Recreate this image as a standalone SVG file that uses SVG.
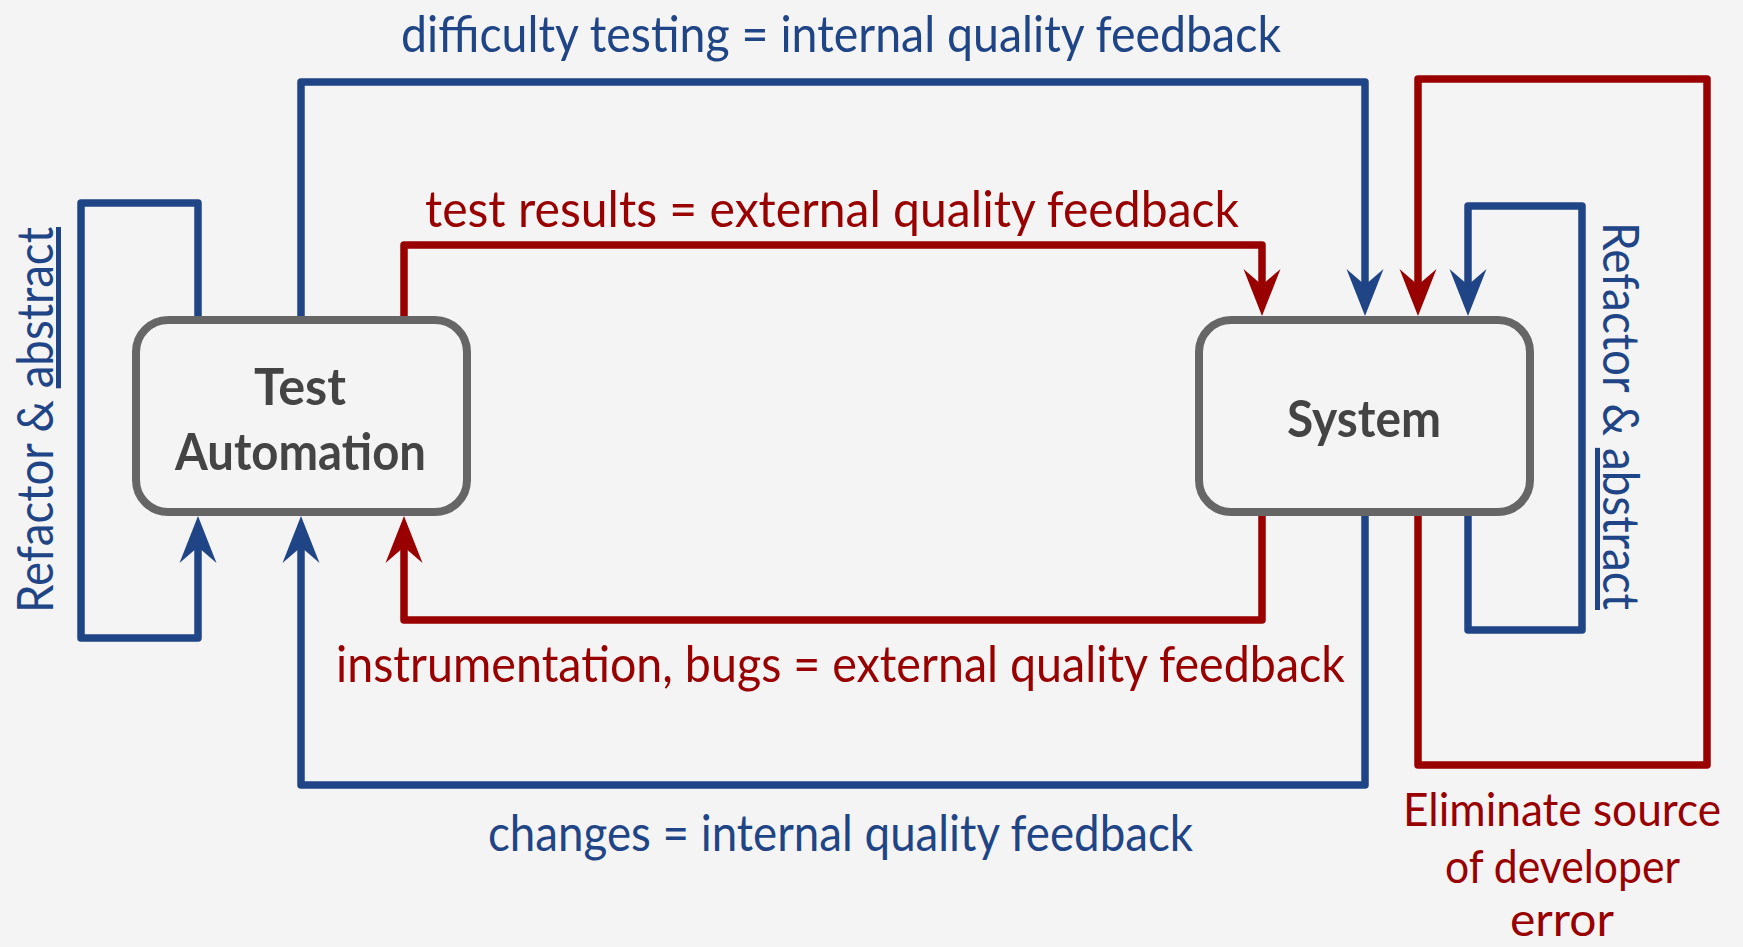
<svg xmlns="http://www.w3.org/2000/svg" width="1743" height="947" viewBox="0 0 1743 947">
<style>
.bg{fill:#f4f4f4}
.node rect{fill:#f4f4f4;stroke:#666666;stroke-width:8}
.ntxt{font-family:Lato,"Liberation Sans",sans-serif;font-weight:bold;font-size:52px;fill:#444444}
.conn path{fill:none;stroke-width:7.5;stroke-linejoin:round}
.blue{stroke:#1f4586}
.red{stroke:#990000}
.lbl{font-family:Lato,"Liberation Sans",sans-serif;font-size:50px}
.lsm{font-size:46px}
.lb{fill:#1f4586}
.lr{fill:#990000}
.ul{text-decoration:underline}
</style>
<defs>
<marker id="ab" markerUnits="userSpaceOnUse" viewBox="-20 -22 55 44" markerWidth="55" markerHeight="44" refX="0" refY="0" orient="auto" overflow="visible">
<path d="M0,0 L-16,-18.5 L31,0 L-16,18.5 Z" fill="#1f4586"/>
</marker>
<marker id="ar" markerUnits="userSpaceOnUse" viewBox="-20 -22 55 44" markerWidth="55" markerHeight="44" refX="0" refY="0" orient="auto" overflow="visible">
<path d="M0,0 L-16,-18.5 L31,0 L-16,18.5 Z" fill="#990000"/>
</marker>
</defs>
<rect class="bg" x="0" y="0" width="1743" height="947"/>
<g id="connectors" class="conn">
<path class="blue" d="M198,320 V203 H81 V638 H198 V547" marker-end="url(#ab)"/>
<path class="blue" d="M301,320 V82 H1365 V285" marker-end="url(#ab)"/>
<path class="blue" d="M1365,512 V785 H301 V547" marker-end="url(#ab)"/>
<path class="blue" d="M1468,512 V630 H1582 V206 H1468 V285" marker-end="url(#ab)"/>
<path class="red" d="M404,320 V245 H1262 V285" marker-end="url(#ar)"/>
<path class="red" d="M1262,512 V620 H404 V547" marker-end="url(#ar)"/>
<path class="red" d="M1418,512 V765 H1707 V79 H1418 V285" marker-end="url(#ar)"/>
</g>
<g id="node-test-automation" class="node">
<rect x="136" y="320" width="331" height="192" rx="32" ry="32"/>
<text class="ntxt" x="254" y="405" textLength="92" lengthAdjust="spacingAndGlyphs">Test</text>
<text class="ntxt" x="175" y="470" textLength="251" lengthAdjust="spacingAndGlyphs">Automation</text>
</g>
<g id="node-system" class="node">
<rect x="1199" y="320" width="331" height="192" rx="32" ry="32"/>
<text class="ntxt" x="1287" y="437" textLength="154" lengthAdjust="spacingAndGlyphs">System</text>
</g>
<g id="labels">
<text class="lbl lb" x="401" y="52" textLength="880" lengthAdjust="spacingAndGlyphs">difficulty testing = internal quality feedback</text>
<text class="lbl lr" x="425" y="227" textLength="814" lengthAdjust="spacingAndGlyphs">test results = external quality feedback</text>
<text class="lbl lr" x="336" y="682" textLength="1009" lengthAdjust="spacingAndGlyphs">instrumentation, bugs = external quality feedback</text>
<text class="lbl lb" x="488" y="851" textLength="705" lengthAdjust="spacingAndGlyphs">changes = internal quality feedback</text>
<text class="lbl lsm lr" x="1403" y="826" textLength="318" lengthAdjust="spacingAndGlyphs">Eliminate source</text>
<text class="lbl lsm lr" x="1445" y="883" textLength="235" lengthAdjust="spacingAndGlyphs">of developer</text>
<text class="lbl lsm lr" x="1510" y="936" textLength="104" lengthAdjust="spacingAndGlyphs">error</text>
<text class="lbl lb" transform="translate(53,613) rotate(-90)" x="0" y="0" textLength="386" lengthAdjust="spacingAndGlyphs">Refactor &amp; <tspan class="ul">abstract</tspan></text>
<text class="lbl lb" transform="translate(1603,222) rotate(90)" x="0" y="0" textLength="388" lengthAdjust="spacingAndGlyphs">Refactor &amp; <tspan class="ul">abstract</tspan></text>
</g>
</svg>
